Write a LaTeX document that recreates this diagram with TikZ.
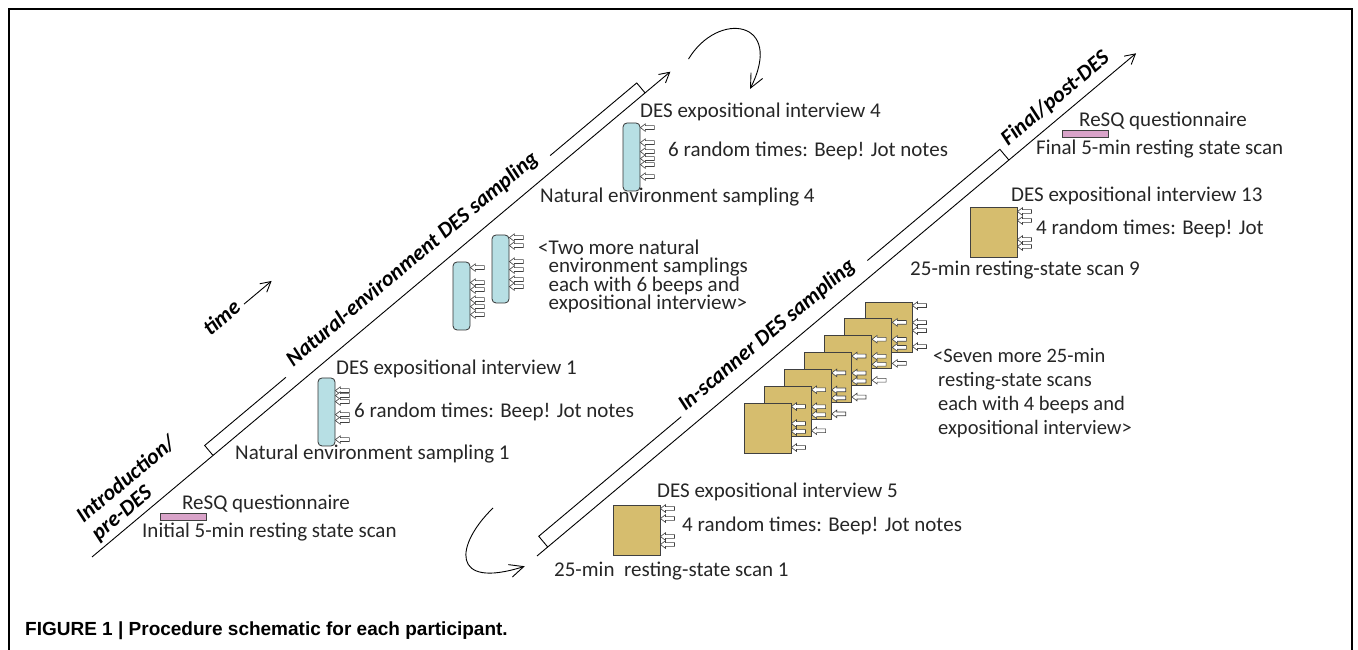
\documentclass[tikz,border=0pt]{standalone}
\usepackage{fontspec}
\setmainfont{Carlito}
\newfontfamily\capfont{Liberation Sans}
\usetikzlibrary{arrows.meta}
\definecolor{natblue}{HTML}{B7DFE4}
\definecolor{scantan}{HTML}{D6BD6E}
\definecolor{resqpink}{HTML}{D9A3C9}
\definecolor{ink}{HTML}{262626}
\tikzset{x=1pt, y=1pt,
    txt/.style={anchor=base west, inner sep=0, text=ink, font=\fontsize{21}{21}\selectfont},
    phase/.style={inner sep=0, rotate=40, font=\fontsize{22}{23}\selectfont\bfseries\itshape},
    lane/.style={line width=0.9pt},
    lanetip/.style={lane, -{Straight Barb[length=10pt,width=11pt]}},
    turn/.style={line width=0.9pt, -{Straight Barb[length=14pt,width=13pt]}},
    natcard/.style={draw=black!80, fill=natblue, rounded corners=4pt, line width=0.8pt,
        minimum width=17pt, minimum height=68pt, inner sep=0},
    scancard/.style={draw=black!75, fill=scantan, line width=0.9pt,
        minimum width=47pt, minimum height=50pt, inner sep=0},
    resqbar/.style={draw=black!75, fill=resqpink, line width=0.8pt,
        minimum width=46pt, minimum height=7pt, inner sep=0},
    beep/.pic={\draw[fill=white, draw=black!75, line width=0.6pt]
        (0,0) -- (5,3.8) -- (5,1.9) -- (14,1.9) -- (14,-1.9) -- (5,-1.9) -- (5,-3.8) -- cycle;},
    }
% beep arrows down the right edge of a card, offsets from its top
\newcommand\beeps[2]{\foreach \dy in {#2} {\pic at ([yshift=-\dy pt]#1.north east) {beep};}}

\begin{document}
\begin{tikzpicture}
\useasboundingbox (0,0) rectangle (1358,650);
\draw[line width=2.2pt] (9,-5) -- (9,641) -- (1352,641) -- (1352,-5); % frame, open at the foot

% first time line: introduction, natural-environment sampling
\begin{scope}[shift={(92,93)}, rotate=40]
  \draw[lanetip] (0,0) -- (755,0);
  \draw[lane] (158,0) -- (158,13) -- (264,13) (609,13) -- (722,13) -- (722,0);
  \node[phase, anchor=base west, align=left] (intro) at (15,8) {Introduction/\\pre-DES};
  \node[phase, anchor=base west] (natlbl) at (276,16) {Natural-environment DES sampling};
  \node[phase, anchor=base east] (time) at (274,93) {time};
  \draw[lanetip] (279,96) -- (315,96);
  \coordinate (natend) at (777,-2);
\end{scope}

% second time line: in-scanner sampling, final
\begin{scope}[shift={(537,94)}, rotate=40]
  \draw[lanetip] (0,0) -- (782,0);
  \draw[lane] (14,0) -- (14,14) -- (200,14) (443,14) -- (616,14) -- (616,0);
  \node[phase, anchor=base west] (scanlbl) at (206,15) {In-scanner DES sampling};
  \node[phase, anchor=base west] (final) at (624,11) {Final/post-DES};
  \coordinate (scanstart) at (-16,0);
\end{scope}

% wrap-around from one line to the next
\coordinate (turnA) at (750,561);
\coordinate (turnB) at (493,142);
\draw[turn] (natend) .. controls (718,640) and (785,630) .. (turnA);
\draw[turn] (turnB) .. controls (455,105) and (450,60) .. (scanstart);

% intro
\node[resqbar] (resq1) at (183,133.5) {};
\node[txt] (resq1txt) at (182,140) {ReSQ questionnaire};
\node[txt] (rest1) at (142,112) {Initial 5-min resting state scan};

% natural environment sampling 1
\node[natcard] (nes1) at (326.5,238) {};
\beeps{nes1}{13,18,24,37,43,62}
\node[txt] (int1) at (336,275) {DES expositional interview 1};
\node[txt] (rand1) at (354,232) {6 random times: Beep! Jot notes};
\node[txt] (nes1txt) at (235,190) {Natural environment sampling 1};

% samplings 2 and 3
\node[natcard] (nesA) at (461.5,354) {};
\beeps{nesA}{6,21,28,38,45,53}
\node[natcard] (nesB) at (500.5,381) {};
\beeps{nesB}{3,11,27,35,45,52}
\node[txt, align=left, font=\fontsize{21}{18.5}\selectfont] (nesmore) at (538,340)
  {<Two more natural\\\hspace*{10.5pt}environment samplings\\\hspace*{10.5pt}each with 6 beeps and\\\hspace*{10.5pt}expositional interview>};

% natural environment sampling 4
\node[natcard] (nes4) at (631.5,493) {};
\beeps{nes4}{5,20,29,36,42,54}
\node[txt] (int4) at (640,532) {DES expositional interview 4};
\node[txt] (rand4) at (668,493) {6 random times: Beep! Jot notes};
\node[txt] (nes4txt) at (540,447) {Natural environment sampling 4};

% scan 1
\node[scancard] (scan1) at (636.5,120) {};
\beeps{scan1}{4,14,32,40}
\node[txt] (int5) at (657,152) {DES expositional interview 5};
\node[txt] (rand5) at (682,118) {4 random times: Beep! Jot notes};
\node[txt] (scan1txt) at (554,73) {25-min~~resting-state scan 1};

% scans 2 to 8, back to front
\foreach \i in {6,5,...,0} {
  \node[scancard] (stack\i) at ({767.5+20.17*\i},{222+16.83*\i}) {};
  \beeps{stack\i}{4,21,29,45}
}
\node[txt, align=left, font=\fontsize{20.5}{24}\selectfont] (scanmore) at (933,215)
  {<Seven more 25-min\\\hspace*{5pt}resting-state scans\\\hspace*{5pt}each with 4 beeps and\\\hspace*{5pt}expositional interview>};

% scan 9
\node[scancard] (scan9) at (993.5,418) {};
\beeps{scan9}{5,14,33,40}
\node[txt] (int13) at (1011,448) {DES expositional interview 13};
\node[txt] (rand9) at (1036,415) {4 random times: Beep! Jot};
\node[txt] (scan9txt) at (910,374) {25-min resting-state scan 9};

% final
\node[resqbar] (resq2) at (1085,516.5) {};
\node[txt] (resq2txt) at (1079,523) {ReSQ questionnaire};
\node[txt] (rest2) at (1036,495) {Final 5-min resting state scan};

\node[anchor=base west, inner sep=0, font=\capfont\bfseries\fontsize{19}{19}\selectfont]
  (caption) at (25,14) {FIGURE 1 | Procedure schematic for each participant.};
\end{tikzpicture}
\end{document}
